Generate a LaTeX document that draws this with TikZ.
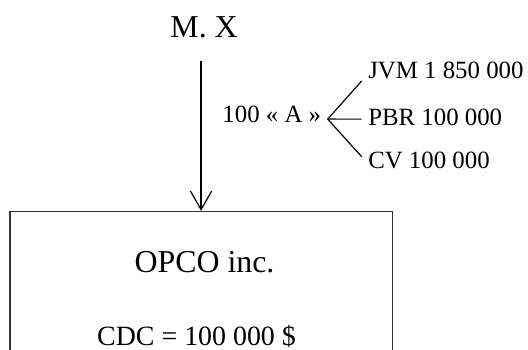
\documentclass[tikz,border=0pt]{standalone}
\usepackage{fontspec}
\setmainfont{Liberation Serif}
\usetikzlibrary{arrows.meta}

\begin{document}
\begin{tikzpicture}[>={Straight Barb[length=14pt,width=16pt]},line width=0.9pt]
  \tikzstyle{titre}=[inner sep=0pt,
                                    font=\fontsize{24}{28}\selectfont]
  \tikzstyle{montant}=[inner xsep=4.5pt,
                                    inner ysep=0pt,
                                    font=\fontsize{18.7}{22}\selectfont]
  \tikzstyle{societe}=[rectangle,
                                    draw=black!80,
                                    minimum width=10.11cm,
                                    minimum height=4.7cm]
  \useasboundingbox (0,0) rectangle (13.97,9.26);
  \clip (0,0) rectangle (13.97,9.26);
  %Actionnaire
  \node[titre] (MX) [shift={(5.40,8.28)}, anchor=base] {M. X};
  %Societe
  \node[societe] (OPCO) [shift={(5.32,3.68)}, anchor=north] {};
  \node[titre] (nom) [shift={(5.41,2.06)}, anchor=base] {OPCO inc.};
  \node[titre, font=\fontsize{21}{25}\selectfont] (CDC) [shift={(5.20,0.13)}, anchor=base] {CDC = 100 000 \$};
  %Actions et valeurs
  \node[montant] (A) [shift={(8.67,6.03)}, anchor=base east] {100 « A »};
  \node[montant] (JVM) [shift={(9.57,7.17)}, anchor=base west] {JVM 1 850 000};
  \node[montant] (PBR) [shift={(9.57,5.95)}, anchor=base west] {PBR 100 000};
  \node[montant] (CV) [shift={(9.57,4.79)}, anchor=base west] {CV 100 000};

  \draw[->, shorten <=17.25pt] (MX.south -| OPCO.north) -- (OPCO.north);
  \path ([yshift=2.25pt]A.base east) edge    node {} ([yshift=-1.5pt]JVM.base west)
            edge    node {} ([yshift=4.5pt]PBR.base west)
            edge    node {} ([yshift=9.2pt]CV.base west);
\end{tikzpicture}
\end{document}
